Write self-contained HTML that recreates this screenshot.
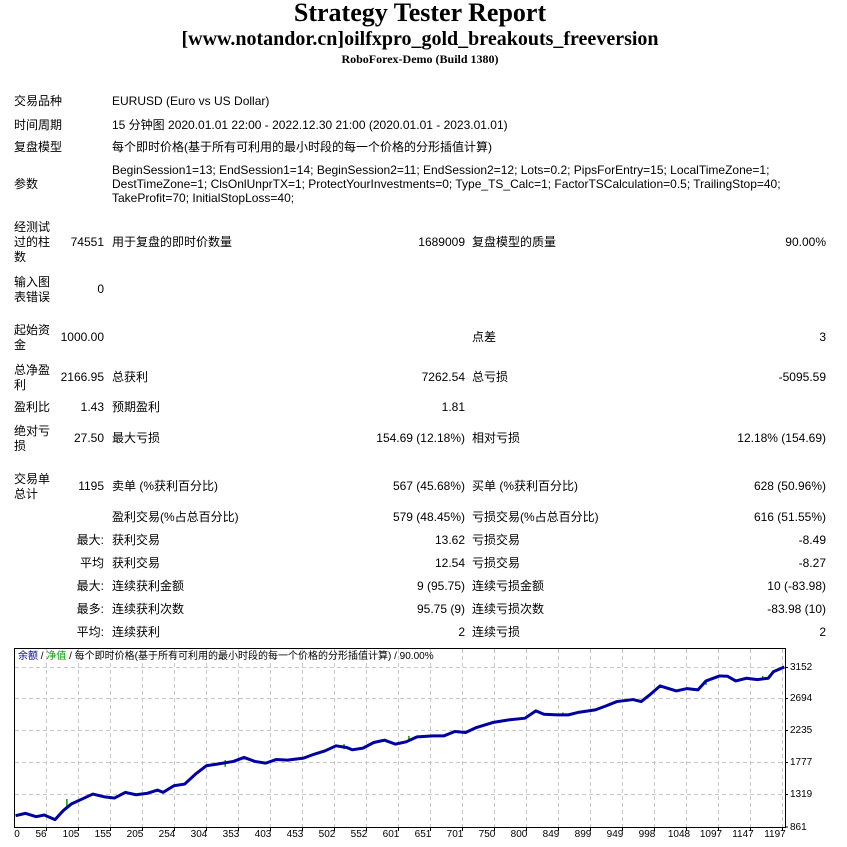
<!DOCTYPE html>
<html><head><meta charset="utf-8"><style>
body{margin:0;width:847px;height:846px;background:#fff;position:relative;overflow:hidden;font-family:"Liberation Sans","Noto Sans CJK SC",sans-serif;font-size:12px;color:#000}
.t{position:absolute;white-space:nowrap;line-height:15px}
.r{text-align:right}
.c{position:absolute;left:0;width:840px;text-align:center;font-family:"Liberation Serif",serif;font-weight:bold;white-space:nowrap}
.ax{position:absolute;font-size:10px;white-space:nowrap;line-height:11px}
.xl span{position:absolute;transform:translateX(-50%)}
</style></head><body>
<div class="c" style="top:-2px;font-size:26px;line-height:30px">Strategy Tester Report</div>
<div class="c" style="top:27px;font-size:20px;line-height:24px">[www.notandor.cn]oilfxpro_gold_breakouts_freeversion</div>
<div class="c" style="top:52px;font-size:12px;line-height:14px">RoboForex-Demo (Build 1380)</div>

<div class="t" style="left:14px;top:94px">交易品种</div><div class="t" style="left:112px;top:94px">EURUSD (Euro vs US Dollar)</div>
<div class="t" style="left:14px;top:118px">时间周期</div><div class="t" style="left:112px;top:118px">15 分钟图 2020.01.01 22:00 - 2022.12.30 21:00 (2020.01.01 - 2023.01.01)</div>
<div class="t" style="left:14px;top:140px">复盘模型</div><div class="t" style="left:112px;top:140px">每个即时价格(基于所有可利用的最小时段的每一个价格的分形插值计算)</div>
<div class="t" style="left:14px;top:177px">参数</div>
<div class="t" style="left:112px;top:163px;line-height:14px">BeginSession1=13; EndSession1=14; BeginSession2=11; EndSession2=12; Lots=0.2; PipsForEntry=15; LocalTimeZone=1;<br>DestTimeZone=1; ClsOnlUnprTX=1; ProtectYourInvestments=0; Type_TS_Calc=1; FactorTSCalculation=0.5; TrailingStop=40;<br>TakeProfit=70; InitialStopLoss=40;</div>

<div class="t" style="left:14px;top:220px">经测试<br>过的柱<br>数</div><div class="t r" style="left:50px;width:54px;top:235px">74551</div>
<div class="t" style="left:112px;top:235px">用于复盘的即时价数量</div><div class="t r" style="left:380px;width:85px;top:235px">1689009</div>
<div class="t" style="left:472px;top:235px">复盘模型的质量</div><div class="t r" style="left:700px;width:126px;top:235px">90.00%</div>

<div class="t" style="left:14px;top:275px">输入图<br>表错误</div><div class="t r" style="left:50px;width:54px;top:282px">0</div>

<div class="t" style="left:14px;top:323px">起始资<br>金</div><div class="t r" style="left:50px;width:54px;top:330px">1000.00</div>
<div class="t" style="left:472px;top:330px">点差</div><div class="t r" style="left:700px;width:126px;top:330px">3</div>

<div class="t" style="left:14px;top:363px">总净盈<br>利</div><div class="t r" style="left:50px;width:54px;top:370px">2166.95</div>
<div class="t" style="left:112px;top:370px">总获利</div><div class="t r" style="left:380px;width:85px;top:370px">7262.54</div>
<div class="t" style="left:472px;top:370px">总亏损</div><div class="t r" style="left:700px;width:126px;top:370px">-5095.59</div>

<div class="t" style="left:14px;top:400px">盈利比</div><div class="t r" style="left:50px;width:54px;top:400px">1.43</div>
<div class="t" style="left:112px;top:400px">预期盈利</div><div class="t r" style="left:380px;width:85px;top:400px">1.81</div>

<div class="t" style="left:14px;top:424px">绝对亏<br>损</div><div class="t r" style="left:50px;width:54px;top:431px">27.50</div>
<div class="t" style="left:112px;top:431px">最大亏损</div><div class="t r" style="left:300px;width:165px;top:431px">154.69 (12.18%)</div>
<div class="t" style="left:472px;top:431px">相对亏损</div><div class="t r" style="left:650px;width:176px;top:431px">12.18% (154.69)</div>

<div class="t" style="left:14px;top:472px">交易单<br>总计</div><div class="t r" style="left:50px;width:54px;top:479px">1195</div>
<div class="t" style="left:112px;top:479px">卖单 (%获利百分比)</div><div class="t r" style="left:300px;width:165px;top:479px">567 (45.68%)</div>
<div class="t" style="left:472px;top:479px">买单 (%获利百分比)</div><div class="t r" style="left:650px;width:176px;top:479px">628 (50.96%)</div>

<div class="t" style="left:112px;top:510px">盈利交易(%占总百分比)</div><div class="t r" style="left:300px;width:165px;top:510px">579 (48.45%)</div>
<div class="t" style="left:472px;top:510px">亏损交易(%占总百分比)</div><div class="t r" style="left:650px;width:176px;top:510px">616 (51.55%)</div>

<div class="t r" style="left:50px;width:54px;top:533px">最大:</div>
<div class="t" style="left:112px;top:533px">获利交易</div><div class="t r" style="left:300px;width:165px;top:533px">13.62</div>
<div class="t" style="left:472px;top:533px">亏损交易</div><div class="t r" style="left:650px;width:176px;top:533px">-8.49</div>

<div class="t r" style="left:50px;width:54px;top:556px">平均</div>
<div class="t" style="left:112px;top:556px">获利交易</div><div class="t r" style="left:300px;width:165px;top:556px">12.54</div>
<div class="t" style="left:472px;top:556px">亏损交易</div><div class="t r" style="left:650px;width:176px;top:556px">-8.27</div>

<div class="t r" style="left:50px;width:54px;top:579px">最大:</div>
<div class="t" style="left:112px;top:579px">连续获利金额</div><div class="t r" style="left:300px;width:165px;top:579px">9 (95.75)</div>
<div class="t" style="left:472px;top:579px">连续亏损金额</div><div class="t r" style="left:650px;width:176px;top:579px">10 (-83.98)</div>

<div class="t r" style="left:50px;width:54px;top:602px">最多:</div>
<div class="t" style="left:112px;top:602px">连续获利次数</div><div class="t r" style="left:300px;width:165px;top:602px">95.75 (9)</div>
<div class="t" style="left:472px;top:602px">连续亏损次数</div><div class="t r" style="left:650px;width:176px;top:602px">-83.98 (10)</div>

<div class="t r" style="left:50px;width:54px;top:625px">平均:</div>
<div class="t" style="left:112px;top:625px">连续获利</div><div class="t r" style="left:300px;width:165px;top:625px">2</div>
<div class="t" style="left:472px;top:625px">连续亏损</div><div class="t r" style="left:650px;width:176px;top:625px">2</div>

<svg style="position:absolute;left:0;top:0" width="847" height="846">
<g stroke="#c8c8c8" stroke-width="1" stroke-dasharray="4,3" fill="none">
<path d="M15 667.5H785M15 698.5H785M15 730.5H785M15 762.5H785M15 794.5H785"/>
<path d="M46.5 649V827M78.5 649V827M110.5 649V827M142.5 649V827M174.5 649V827M206.5 649V827M238.5 649V827M270.5 649V827M302.5 649V827M334.5 649V827M366.5 649V827M398.5 649V827M430.5 649V827M462.5 649V827M494.5 649V827M526.5 649V827M558.5 649V827M590.5 649V827M622.5 649V827M654.5 649V827M686.5 649V827M718.5 649V827M750.5 649V827M782.5 649V827"/>
</g>
<rect x="14.5" y="648.5" width="771" height="179" fill="none" stroke="#000" stroke-width="1"/>
<g stroke="#000"><path d="M785 667.5h3M785 698.5h3M785 730.5h3M785 762.5h3M785 794.5h3M785 827h3"/>
<path d="M46.5 828v3M78.5 828v3M110.5 828v3M142.5 828v3M174.5 828v3M206.5 828v3M238.5 828v3M270.5 828v3M302.5 828v3M334.5 828v3M366.5 828v3M398.5 828v3M430.5 828v3M462.5 828v3M494.5 828v3M526.5 828v3M558.5 828v3M590.5 828v3M622.5 828v3M654.5 828v3M686.5 828v3M718.5 828v3M750.5 828v3M782.5 828v3"/></g>
</svg>
<svg style="position:absolute;left:0.5px;top:640.7px" width="834.7" height="206.3" viewBox="0 0 1545 620" preserveAspectRatio="none">
<g stroke="#00a000" stroke-width="1.5" vector-effect="non-scaling-stroke"><path vector-effect="non-scaling-stroke" d="M122 475V505M415 358V378M635 310V325M755 285V300M1040 215V225M1305 120V132M1410 105V118"/></g>
<polyline vector-effect="non-scaling-stroke" fill="none" stroke="#0000a0" stroke-width="3" stroke-linejoin="round" points="27,525 45,518 65,528 80,523 100,537 115,510 130,490 150,475 170,460 190,468 210,472 230,455 250,462 270,458 290,448 300,455 320,435 340,430 360,400 380,375 400,370 430,362 450,350 470,362 490,367 510,356 530,358 560,352 580,340 600,330 620,315 640,320 650,327 670,322 690,305 710,298 730,310 750,303 770,288 800,285 820,285 840,272 860,275 880,260 910,245 940,237 970,232 990,210 1005,220 1030,222 1050,222 1070,214 1100,207 1120,195 1140,182 1170,176 1185,182 1200,163 1220,135 1250,150 1270,143 1290,147 1305,120 1330,105 1345,106 1360,120 1380,112 1400,116 1420,112 1430,92 1450,78"/>
</svg>
<div class="ax" style="left:18px;top:651px"><span style="color:#0000a0">余额</span> / <span style="color:#00a000">净值</span> / 每个即时价格(基于所有可利用的最小时段的每一个价格的分形插值计算) / 90.00%</div>
<div class="ax" style="left:790px;top:662px">3152</div>
<div class="ax" style="left:790px;top:693px">2694</div>
<div class="ax" style="left:790px;top:725px">2235</div>
<div class="ax" style="left:790px;top:757px">1777</div>
<div class="ax" style="left:790px;top:789px">1319</div>
<div class="ax" style="left:790px;top:822px">861</div>
<div class="ax xl" style="left:0;top:829px;width:847px;height:12px">
<span style="left:17px">0</span><span style="left:41px">56</span><span style="left:71px">105</span><span style="left:103px">155</span><span style="left:135px">205</span><span style="left:167px">254</span><span style="left:199px">304</span><span style="left:231px">353</span><span style="left:263px">403</span><span style="left:295px">453</span><span style="left:327px">502</span><span style="left:359px">552</span><span style="left:391px">601</span><span style="left:423px">651</span><span style="left:455px">701</span><span style="left:487px">750</span><span style="left:519px">800</span><span style="left:551px">849</span><span style="left:583px">899</span><span style="left:615px">949</span><span style="left:647px">998</span><span style="left:679px">1048</span><span style="left:711px">1097</span><span style="left:743px">1147</span><span style="left:775px">1197</span>
</div>
</body></html>
